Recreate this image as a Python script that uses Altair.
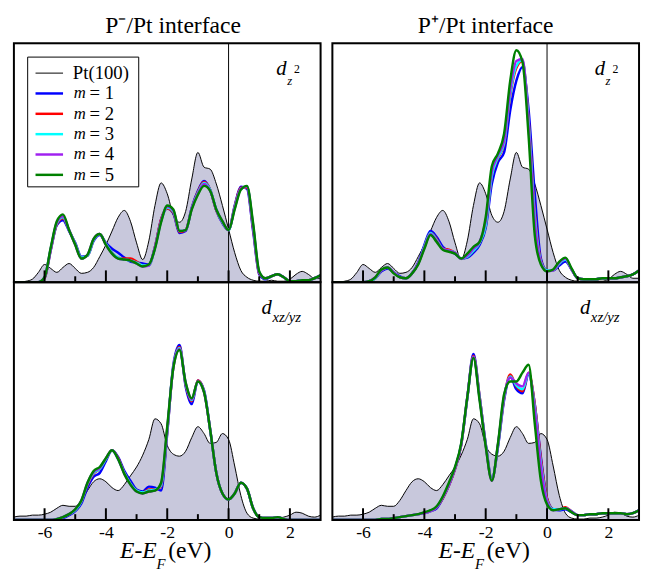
import altair as alt
import pandas as pd

ENERGY = [-7.0, -6.8, -6.6, -6.4, -6.2, -6.0, -5.8, -5.6, -5.4, -5.2, -5.0, -4.8, -4.6, -4.4, -4.2,
          -4.0, -3.8, -3.6, -3.4, -3.2, -3.0, -2.8, -2.6, -2.4, -2.2, -2.0, -1.8, -1.6, -1.4, -1.2,
          -1.0, -0.8, -0.6, -0.4, -0.2, 0.0, 0.2, 0.4, 0.6, 0.8, 1.0, 1.2, 1.4, 1.6, 1.8, 2.0, 2.2,
          2.4, 2.6, 2.8, 3.0]

SERIES = ["m = 1", "m = 2", "m = 3", "m = 4", "m = 5"]
COLORS = ["#0000ff", "#ff0000", "#00ffff", "#a020f0", "#008000"]

# Pt(100) reference DOS
PT_DZ2 = [0, 0, 1, 3, 10, 18, 14, 10, 15, 19, 14, 9, 10, 15, 26, 38, 52, 66, 73, 62, 40, 23, 42, 78,
          101, 90, 68, 61, 72, 105, 132, 117, 115, 100, 78, 54, 30, 12, 5, 2, 1, 1, 2, 1, 1, 3, 8, 11,
          8, 4, 4]
PT_DXZ = [3, 4, 4, 5, 5, 6, 8, 12, 15, 14, 14, 20, 30, 39, 42, 39, 33, 30, 36, 45, 54, 66, 82, 103,
          98, 76, 67, 65, 70, 84, 95, 88, 78, 79, 88, 82, 55, 25, 7, 2, 1, 1, 2, 2, 3, 5, 8, 7, 4, 3, 5]

# P-/Pt interface, d_z2
M1_TL = [0, 0, 0, 0, 0, 4, 32, 58, 63, 52, 40, 26, 27, 42, 48, 40, 34, 30, 25, 21, 20, 19, 18, 36, 64,
         75, 70, 50, 52, 76, 93, 103, 94, 73, 60, 53, 78, 97, 95, 52, 8, 3, 6, 8, 5, 1, 1, 2, 2, 4, 7]
M2_TL = [0, 0, 0, 0, 0, 4, 33, 59, 65, 53, 39, 25, 27, 43, 49, 39, 30, 25, 24, 24, 21, 17, 17, 36, 64,
         75, 71, 51, 53, 75, 92, 102, 94, 73, 61, 53, 77, 96, 96, 55, 9, 4, 6, 8, 5, 1, 1, 2, 2, 4, 7]
M3_TL = [0, 0, 0, 0, 0, 5, 34, 60, 66, 53, 39, 25, 27, 43, 49, 39, 30, 25, 23, 22, 20, 17, 17, 35, 62,
         76, 72, 52, 53, 75, 91, 101, 94, 74, 61, 53, 76, 95, 97, 57, 10, 4, 6, 8, 5, 1, 1, 2, 2, 4, 7]
M4_TL = [0, 0, 0, 0, 0, 5, 34, 61, 67, 53, 38, 24, 28, 44, 49, 38, 29, 24, 23, 22, 19, 16, 17, 35, 62,
         77, 73, 52, 53, 75, 90, 100, 93, 74, 62, 53, 75, 95, 97, 58, 10, 4, 6, 8, 5, 1, 1, 2, 2, 4, 7]
M5_TL = [0, 0, 0, 0, 0, 5, 35, 62, 69, 53, 38, 24, 28, 44, 49, 38, 29, 24, 23, 22, 19, 16, 18, 34, 61,
         78, 74, 52, 53, 74, 89, 98, 93, 74, 62, 53, 74, 94, 98, 60, 11, 4, 6, 8, 5, 1, 1, 2, 2, 4, 7]

# P+/Pt interface, d_z2
M1_TR = [0, 0, 0, 0, 0, 0, 1, 4, 11, 14, 10, 6, 4, 9, 20, 38, 52, 46, 36, 32, 29, 24, 25, 30, 38, 55,
         100, 122, 132, 175, 205, 219, 175, 90, 24, 12, 12, 17, 21, 13, 4, 3, 3, 3, 4, 4, 4, 5, 6, 8, 12]
M2_TR = [0, 0, 0, 0, 0, 0, 1, 4, 12, 15, 10, 5, 4, 9, 19, 36, 50, 44, 34, 33, 30, 24, 26, 32, 40, 58,
         108, 126, 140, 190, 218, 225, 165, 72, 22, 12, 12, 19, 23, 13, 4, 3, 3, 3, 4, 4, 4, 5, 6, 8, 12]
M3_TR = [0, 0, 0, 0, 0, 0, 1, 4, 12, 15, 10, 5, 4, 9, 19, 36, 50, 43, 34, 32, 30, 24, 26, 32, 40, 58,
         108, 127, 141, 192, 220, 226, 162, 68, 21, 12, 12, 19, 23, 13, 4, 3, 3, 3, 4, 4, 4, 5, 6, 8, 12]
M4_TR = [0, 0, 0, 0, 0, 0, 1, 5, 12, 15, 10, 5, 4, 9, 19, 35, 49, 42, 34, 32, 30, 24, 27, 34, 41, 62,
         112, 129, 144, 196, 225, 227, 158, 62, 20, 11, 12, 20, 24, 13, 4, 3, 3, 3, 4, 4, 4, 5, 6, 8, 12]
M5_TR = [0, 0, 0, 0, 0, 0, 1, 5, 13, 15, 9, 5, 4, 9, 18, 34, 48, 41, 33, 31, 29, 24, 29, 36, 41, 66,
         118, 131, 151, 205, 236, 224, 148, 48, 18, 11, 13, 21, 25, 14, 4, 3, 3, 3, 4, 4, 4, 5, 6, 8, 12]

# P-/Pt interface, d_xz/yz
M1_BL = [0, 0, 0, 0, 0, 0, 0, 1, 2, 5, 9, 17, 33, 44, 48, 60, 71, 64, 50, 40, 31, 29, 34, 33, 30, 88,
         158, 178, 136, 118, 142, 132, 92, 48, 27, 21, 27, 38, 32, 12, 3, 2, 2, 3, 1, 0, 0, 0, 0, 0, 0]
M2_BL = [0, 0, 0, 0, 0, 0, 0, 1, 3, 6, 10, 19, 36, 47, 52, 62, 71, 63, 48, 37, 30, 28, 31, 31, 34, 90,
         156, 176, 138, 121, 142, 131, 92, 48, 27, 21, 27, 38, 32, 12, 3, 2, 2, 3, 1, 0, 0, 0, 0, 0, 0]
M3_BL = [0, 0, 0, 0, 0, 0, 0, 1, 3, 6, 10, 19, 37, 48, 52, 62, 71, 62, 48, 37, 30, 28, 30, 31, 35, 91,
         156, 175, 139, 122, 141, 131, 92, 48, 27, 21, 27, 38, 32, 12, 3, 2, 2, 3, 1, 0, 0, 0, 0, 0, 0]
M4_BL = [0, 0, 0, 0, 0, 0, 0, 1, 3, 6, 11, 20, 38, 49, 53, 63, 71, 62, 47, 36, 29, 27, 29, 30, 37, 93,
         155, 174, 140, 123, 141, 130, 92, 48, 27, 21, 27, 38, 32, 12, 3, 2, 2, 3, 1, 0, 0, 0, 0, 0, 0]
M5_BL = [0, 0, 0, 0, 0, 0, 0, 1, 3, 6, 11, 20, 38, 50, 54, 63, 71, 62, 47, 36, 29, 27, 29, 30, 38, 95,
         155, 173, 140, 124, 141, 130, 92, 48, 27, 21, 27, 38, 32, 12, 3, 2, 2, 3, 1, 0, 0, 0, 0, 0, 0]

# P+/Pt interface, d_xz/yz
M1_BR = [0, 0, 0, 0, 0, 0, 0, 0, 1, 1, 2, 3, 4, 5, 6, 7, 9, 12, 22, 35, 52, 76, 124, 169, 126, 78, 42,
         74, 122, 146, 133, 129, 148, 118, 64, 22, 11, 10, 11, 8, 5, 5, 6, 6, 7, 7, 7, 7, 6, 7, 10]
M2_BR = [0, 0, 0, 0, 0, 0, 0, 0, 1, 1, 2, 3, 4, 5, 6, 7, 9, 13, 22, 35, 52, 76, 124, 167, 126, 77, 41,
         76, 124, 148, 136, 131, 150, 118, 62, 22, 11, 11, 13, 9, 5, 5, 6, 6, 7, 7, 7, 7, 6, 7, 10]
M3_BR = [0, 0, 0, 0, 0, 0, 0, 0, 1, 1, 2, 3, 4, 5, 6, 7, 9, 13, 23, 36, 53, 77, 124, 166, 125, 77, 41,
         76, 125, 146, 137, 133, 149, 115, 58, 20, 11, 11, 12, 9, 5, 5, 6, 6, 7, 7, 7, 7, 6, 7, 10]
M4_BR = [0, 0, 0, 0, 0, 0, 0, 0, 1, 1, 2, 3, 4, 5, 6, 7, 9, 13, 23, 36, 53, 77, 125, 166, 124, 76, 40,
         77, 126, 145, 139, 136, 150, 112, 54, 19, 10, 11, 12, 9, 5, 5, 6, 6, 7, 7, 7, 7, 6, 7, 10]
M5_BR = [0, 0, 0, 0, 0, 0, 0, 0, 1, 1, 2, 3, 4, 5, 6, 8, 10, 14, 24, 38, 54, 78, 125, 165, 122, 75, 40,
         78, 128, 141, 141, 150, 158, 98, 40, 16, 10, 11, 12, 8, 5, 5, 6, 6, 7, 7, 7, 7, 6, 7, 10]

MAJOR_TICKS = [-6, -4, -2, 0, 2]
MINOR_TICKS = [-5, -3, -1, 1]
LEGEND_LABELS = ["Pt(100)", "m = 1", "m = 2", "m = 3", "m = 4", "m = 5"]

FONT = "Liberation Serif"
W = 312
H_TOP = 243
H_BOT = 242
PT_FILL = "#c8c8dc"

ONE = pd.DataFrame({"a": [0]})


def text(t, x, y, size, italic=False, align="left", baseline="alphabetic"):
    kw = dict(text=t, font=FONT, fontSize=size, color="black", align=align, baseline=baseline)
    if italic:
        kw["fontStyle"] = "italic"
    return alt.Chart(ONE).mark_text(**kw).encode(x=alt.value(x), y=alt.value(y))


def panel(pt, curves, height, bottom=False):
    xs = alt.Scale(domain=[-7, 3], nice=False, zero=False)
    ys = alt.Scale(domain=[0, height], nice=False, zero=True)
    if bottom:
        xaxis = alt.Axis(values=MAJOR_TICKS, ticks=False, domain=False, grid=False, title=None,
                         labelFont=FONT, labelFontSize=18, labelColor="black", labelPadding=4,
                         labelExpr="datum.value + ''")
    else:
        xaxis = None
    ptdf = pd.DataFrame({"E": ENERGY, "dos": pt})
    layers = []
    layers.append(alt.Chart(ptdf).mark_area(color=PT_FILL, interpolate="monotone", clip=True).encode(
        x=alt.X("E:Q", scale=xs, axis=xaxis), y=alt.Y("dos:Q", scale=ys, axis=None)))
    layers.append(alt.Chart(ptdf).mark_line(color="black", strokeWidth=1, interpolate="monotone",
                                            clip=True).encode(x="E:Q", y="dos:Q"))
    layers.append(alt.Chart(pd.DataFrame({"E": [0]})).mark_rule(color="black", strokeWidth=1).encode(
        x="E:Q"))
    for name, col, vals in zip(SERIES, COLORS, curves):
        df = pd.DataFrame({"E": ENERGY, "dos": vals})
        layers.append(alt.Chart(df).mark_line(color=col, strokeWidth=2.5, interpolate="monotone",
                                              clip=True).encode(x="E:Q", y="dos:Q"))
    layers.append(alt.Chart(pd.DataFrame({"E": MAJOR_TICKS})).mark_rule(
        color="black", strokeWidth=2).encode(x="E:Q", y=alt.value(height), y2=alt.value(height - 12)))
    layers.append(alt.Chart(pd.DataFrame({"E": MINOR_TICKS})).mark_rule(
        color="black", strokeWidth=2).encode(x="E:Q", y=alt.value(height), y2=alt.value(height - 6)))
    layers.append(alt.Chart(ONE).mark_rect(filled=False, stroke="black", strokeWidth=2).encode(
        x=alt.value(0), x2=alt.value(W), y=alt.value(0), y2=alt.value(height)))
    return layers


def dz2_label():
    return [text("d", 267, 32, 21, italic=True),
            text("z", 278, 42, 13, italic=True),
            text("2", 285, 30, 12)]


def dxz_label():
    return [text("d", 252, 32, 21, italic=True),
            text("xz/yz", 263, 40, 15, italic=True)]


def xtitle():
    return [text("E-E", 108, 281, 24, italic=True),
            text("F", 145, 292, 15, italic=True),
            text("(eV)", 157, 281, 24)]


def legend():
    rows = pd.DataFrame({"label": LEGEND_LABELS, "i": list(range(len(LEGEND_LABELS)))})
    rows["ly"] = 30.3 + 20.7 * rows["i"]
    rows["w"] = [1] + [2.5] * 5
    box = alt.Chart(ONE).mark_rect(fill="white", stroke="black", strokeWidth=1).encode(
        x=alt.value(14), x2=alt.value(127), y=alt.value(14), y2=alt.value(146))
    lines = alt.Chart(rows).mark_rule().encode(
        x=alt.value(22), x2=alt.value(50), y=alt.Y("ly:Q", scale=None),
        color=alt.Color("label:N", scale=alt.Scale(domain=LEGEND_LABELS, range=["black"] + COLORS),
                        legend=None),
        strokeWidth=alt.StrokeWidth("w:Q", scale=None, legend=None))
    pt_txt = alt.Chart(rows[rows["i"] == 0]).mark_text(
        font=FONT, fontSize=19, align="left", baseline="middle", color="black").encode(
        x=alt.value(60), y=alt.Y("ly:Q", scale=None), text="label:N")
    mdf = rows[rows["i"] > 0].copy()
    mdf["rest"] = "= " + mdf["i"].astype(str)
    m_txt = alt.Chart(mdf).mark_text(
        font=FONT, fontSize=17, fontStyle="italic", align="left", baseline="middle", color="black",
        text="m").encode(x=alt.value(61), y=alt.Y("ly:Q", scale=None))
    r_txt = alt.Chart(mdf).mark_text(
        font=FONT, fontSize=19, align="left", baseline="middle", color="black").encode(
        x=alt.value(77), y=alt.Y("ly:Q", scale=None), text="rest:N")
    return [box, lines, pt_txt, m_txt, r_txt]


tl = alt.layer(*panel(PT_DZ2, [M1_TL, M2_TL, M3_TL, M4_TL, M5_TL], H_TOP), *dz2_label(), *legend(),
               text("P⁻/Pt interface", 162, -11, 24, align="center")).properties(
    width=W, height=H_TOP)
tr = alt.layer(*panel(PT_DZ2, [M1_TR, M2_TR, M3_TR, M4_TR, M5_TR], H_TOP), *dz2_label(),
               text("P⁺/Pt interface", 156, -11, 24, align="center")).properties(
    width=W, height=H_TOP)
bl = alt.layer(*panel(PT_DXZ, [M1_BL, M2_BL, M3_BL, M4_BL, M5_BL], H_BOT, bottom=True), *dxz_label(),
               *xtitle()).properties(width=W, height=H_BOT)
br = alt.layer(*panel(PT_DXZ, [M1_BR, M2_BR, M3_BR, M4_BR, M5_BR], H_BOT, bottom=True), *dxz_label(),
               *xtitle()).properties(width=W, height=H_BOT)

left = alt.vconcat(tl, bl, spacing=0, bounds="flush")
right = alt.vconcat(tr, br, spacing=0, bounds="flush")
chart = alt.hconcat(left, right, spacing=8).properties(
    padding={"left": 4, "top": 0, "right": 0, "bottom": 0}
).configure_view(stroke=None).configure(background="white")

chart.save("out.html", embed_options={"renderer": "svg", "actions": False})
